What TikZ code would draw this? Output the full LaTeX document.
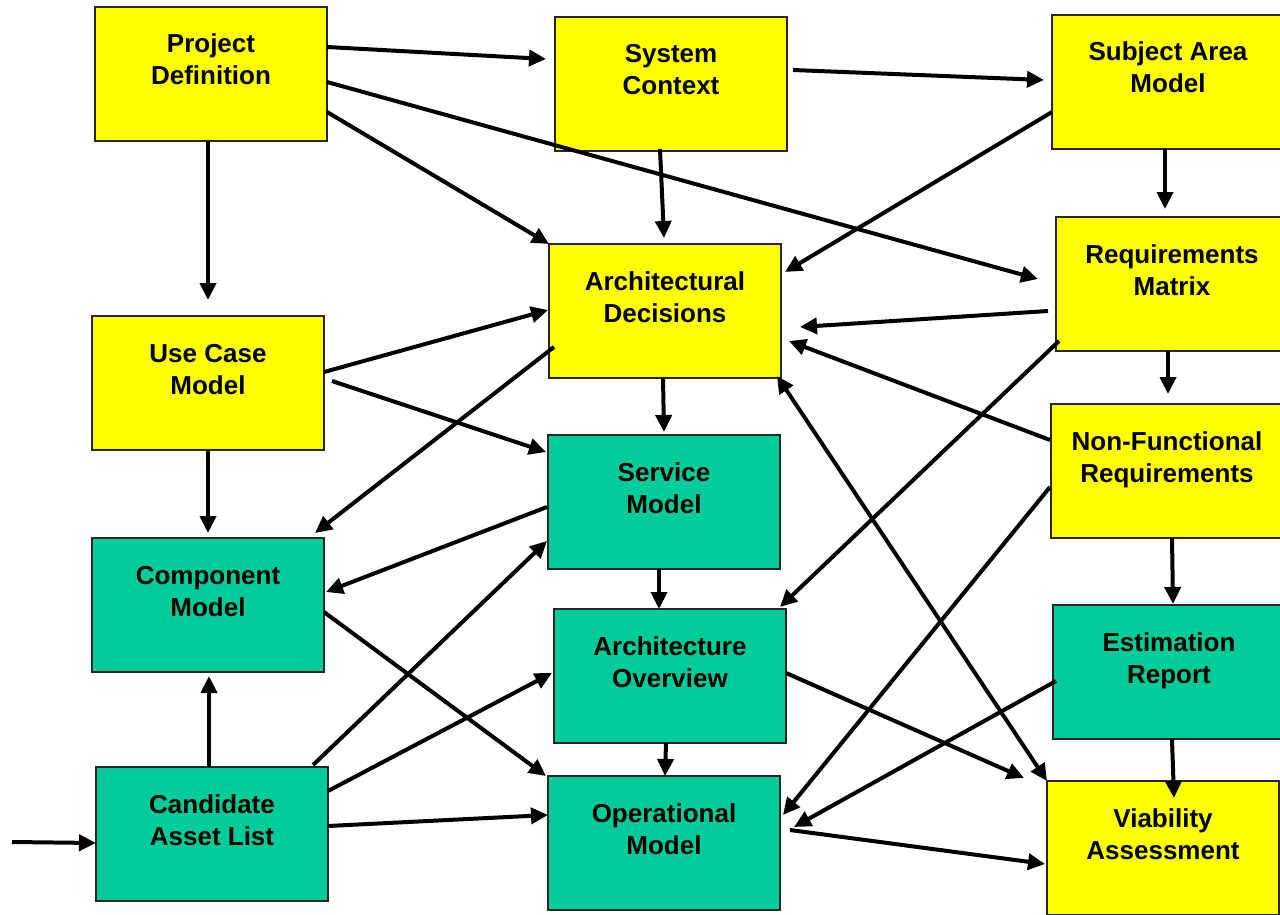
\documentclass[tikz,border=0pt]{standalone}
\usepackage{fontspec}
\setmainfont{Liberation Sans}
\usetikzlibrary{arrows.meta,calc}
\definecolor{boxyellow}{RGB}{255,255,0}
\definecolor{boxgreen}{RGB}{0,204,153}
\newcommand\boxtxt[1]{\parbox[c][134pt][t]{232pt}{\centering\fontsize{26}{32}\selectfont\bfseries\rule{0pt}{46pt}#1}}
\tikzset{
  basebox/.style={draw=black!85, line width=1.8pt, inner sep=0pt, outer sep=0pt, anchor=north west},
  ybox/.style={basebox, fill=boxyellow},
  gbox/.style={basebox, fill=boxgreen},
  conn/.style={line width=4pt, -{Triangle[length=17pt,width=16pt]}},
  bconn/.style={line width=4pt, {Triangle[length=17pt,width=16pt]}-{Triangle[length=17pt,width=16pt]}}
}
\begin{document}
\begin{tikzpicture}[x=1pt,y=-1pt]
\fill[white] (0,0) rectangle (1280,915);
\useasboundingbox (0,0) rectangle (1280,915);
% nodes
\node[ybox] (pd)  at (95,7)     {\boxtxt{Project\\Definition}};
\node[ybox] (sc)  at (555,17)   {\boxtxt{System\\Context}};
\node[ybox] (sam) at (1052,15)  {\boxtxt{Subject Area\\Model}};
\node[ybox] (rm)  at (1056,217) {\boxtxt{Requirements\\Matrix}};
\node[ybox] (ad)  at (549,244)  {\boxtxt{Architectural\\Decisions}};
\node[ybox] (ucm) at (92,316)   {\boxtxt{Use Case\\Model}};
\node[ybox] (nfr) at (1051,404) {\boxtxt{Non-Functional\\Requirements}};
\node[gbox] (svm) at (548,435)  {\boxtxt{Service\\Model}};
\node[gbox] (cm)  at (92,538)   {\boxtxt{Component\\Model}};
\node[gbox] (ao)  at (554,609)  {\boxtxt{Architecture\\Overview}};
\node[gbox] (er)  at (1053,605) {\boxtxt{Estimation\\Report}};
\node[gbox] (cal) at (96,767)   {\boxtxt{Candidate\\Asset List}};
\node[gbox] (om)  at (548,776)  {\boxtxt{Operational\\Model}};
\node[ybox] (va)  at (1047,781) {\boxtxt{Viability\\Assessment}};
\coordinate (ext) at (12,842);
% connectors
\draw[conn] ($(pd.north east)+(0,40)$)  -- ($(sc.north west)+(-9,42)$);
\draw[conn] ($(sc.north east)+(6,53)$)  -- ($(sam.north west)+(-8,65)$);
\draw[conn] ($(pd.north east)+(0,75)$)  -- ($(rm.north west)+(-18,62)$);
\draw[conn] ($(pd.north east)+(0,105)$) -- ($(ad.north west)+(0,0)$);
\draw[conn] ($(pd.south)+(-3,0)$)       -- ($(ucm.north)+(0,-16)$);
\draw[conn] ($(sc.south)+(-11,-2)$)     -- ($(ad.north)+(-1,-6)$);
\draw[conn] ($(sam.north west)+(0,97)$) -- ($(ad.north east)+(4,28)$);
\draw[conn] ($(sam.south)+(-3,0)$)      -- ($(rm.north)+(-7,-8)$);
\draw[conn] ($(rm.north west)+(-8,94)$) -- ($(ad.north east)+(19,83)$);
\draw[conn] ($(rm.south)+(-4,0)$)       -- ($(nfr.north)+(1,-10)$);
\draw[conn] ($(rm.south west)+(3,-10)$) -- ($(ao.north east)+(-6,-2)$);
\draw[conn] ($(ucm.north east)+(0,56)$) -- ($(ad.north west)+(-1,66)$);
\draw[conn] ($(ucm.north east)+(8,65)$) -- ($(svm.north west)+(-2,17)$);
\draw[conn] (ucm.south)                 -- ($(cm.north)+(0,-5)$);
\draw[conn] ($(ad.north west)+(5,103)$) -- ($(cm.north east)+(-9,-5)$);
\draw[conn] ($(ad.south)+(-2,0)$)       -- ($(svm.north)+(0,-3)$);
\draw[conn] ($(nfr.north west)+(-1,36)$) -- ($(ad.north east)+(8,97)$);
\draw[conn] ($(nfr.north west)+(-1,83)$) -- ($(om.north east)+(3,39)$);
\draw[conn] ($(nfr.south)+(5,0)$)       -- ($(er.north)+(4,-1)$);
\draw[conn] ($(svm.north west)+(-1,72)$) -- ($(cm.north east)+(2,54)$);
\draw[conn] ($(svm.south)+(-5,0)$)      -- ($(ao.north)+(-11,0)$);
\draw[conn] ($(cm.north east)+(0,74)$)  -- ($(om.north west)+(-2,0)$);
\draw[conn] ($(cal.north)+(-3,0)$)      -- ($(cm.south)+(1,4)$);
\draw[conn] ($(cal.north east)+(-15,-2)$) -- ($(svm.north west)+(-1,106)$);
\draw[conn] ($(cal.north east)+(0,24)$) -- ($(ao.north west)+(-2,64)$);
\draw[conn] ($(cal.north east)+(0,59)$) -- ($(om.north west)+(0,39)$);
\draw[conn] (ext)                       -- ($(cal.north west)+(0,76)$);
\draw[conn] ($(ao.south)+(-4,0)$)       -- ($(om.north)+(1,0)$);
\draw[conn] ($(ao.north east)+(0,64)$)  -- ($(va.north west)+(-23,-3)$);
\draw[bconn] ($(ad.south east)+(-4,-2)$) -- ($(va.north west)+(0,0)$);
\draw[conn] ($(er.north west)+(3,76)$)  -- ($(om.north east)+(14,51)$);
\draw[conn] ($(er.south)+(3,0)$)        -- ($(va.north)+(11,17)$);
\draw[conn] ($(om.north east)+(10,54)$) -- ($(va.north west)+(-2,83)$);
\end{tikzpicture}
\end{document}
